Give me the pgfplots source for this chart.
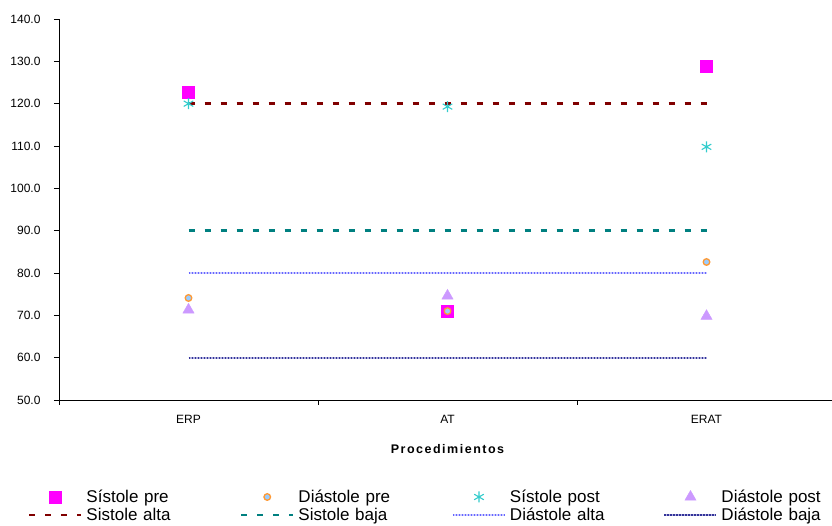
\documentclass[border=0pt]{standalone}
\usepackage{pgfplots}
\pgfplotsset{compat=1.18}
\usepackage{fontspec}
\setmainfont{Liberation Sans}

\definecolor{spre}{HTML}{FF00FF}
\definecolor{dprefill}{HTML}{99CCFF}
\definecolor{dpredraw}{HTML}{FF9933}
\definecolor{spost}{HTML}{33CCCC}
\definecolor{dpost}{HTML}{CC99FF}
\definecolor{salta}{HTML}{800000}
\definecolor{sbaja}{HTML}{008080}
\definecolor{dalta}{HTML}{6666FF}
\definecolor{daltabg}{HTML}{CCCCFF}
\definecolor{dbaja}{HTML}{333399}
\definecolor{dbajabg}{HTML}{B0B0DD}

\begin{document}
\begin{tikzpicture}
\useasboundingbox (0,0) rectangle (832pt,526pt);
\begin{axis}[
  at={(59pt,126pt)}, anchor=south west,
  scale only axis,
  width=777pt, height=381pt,
  xmin=-0.5, xmax=2.5,
  ymin=50, ymax=140,
  axis x line*=bottom, axis y line*=left,
  axis line style={-, line width=0.8pt},
  tick align=outside,
  major tick length=5pt,
  tick style={black, line width=0.8pt},
  ytick={50,60,...,140},
  yticklabel style={font=\fontsize{12}{13}\selectfont, xshift=-10pt,
    /pgf/number format/.cd, fixed, fixed zerofill, precision=1,
    assume math mode=true},
  xtick={-0.5,0.5,1.5,2.5},
  xticklabels={},
  extra x ticks={0,1,2},
  extra x tick labels={ERP,AT,ERAT},
  extra x tick style={major tick length=0pt,
    tick label style={font=\fontsize{12}{14}\selectfont, yshift=-12pt}},
  xlabel={\addfontfeatures{LetterSpace=12}Procedimientos},
  xlabel style={font=\fontsize{12.5}{14}\selectfont\bfseries,
    at={(axis description cs:0.5,-0.1286)}, anchor=center},
  clip=false,
  legend columns=4,
  legend cell align=left,
  legend image code/.code={%
    \draw[mark repeat=2,mark phase=2,#1]
      plot coordinates {(0pt,0pt) (26pt,0pt) (52pt,0pt)};},
  legend style={
    at={(axis description cs:-0.0399,-0.2362)}, anchor=north west,
    draw=none, inner sep=0pt, outer sep=0pt,
    font=\fontsize{17}{18}\selectfont,
    row sep=0pt,
    nodes={text width=150pt, inner xsep=0pt, inner ysep=1pt,
      text height=12pt, text depth=4pt, yshift=-2pt},
    /tikz/every odd column/.style={column sep=4pt},
    /tikz/every even column/.style={column sep=3.5pt},
  },
]
% blood pressure before the procedure
\addplot[only marks, mark=square*, mark size=6pt,
  mark options={draw=spre, fill=spre}]
  coordinates {(0,122.8) (1,71.0) (2,128.9)};
\addlegendentry{Sístole pre}
\addplot[only marks, mark=*, mark size=3.3pt,
  mark options={draw=dpredraw, fill=dprefill, line width=1.3pt}]
  coordinates {(0,74.1) (1,71.0) (2,82.6)};
\addlegendentry{Diástole pre}
% blood pressure after the procedure
\addplot[only marks, mark=asterisk, mark size=5.5pt,
  mark options={draw=spost, line width=1.1pt}]
  coordinates {(0,120.0) (1,119.3) (2,109.8)};
\addlegendentry{Sístole post}
\addplot[only marks, mark=triangle*, mark size=6.5pt,
  mark options={draw=dpost, fill=dpost}]
  coordinates {(0,71.3) (1,74.6) (2,69.8)};
\addlegendentry{Diástole post}
% reference limits
\addplot[salta, line width=2.5pt, dash pattern=on 6pt off 10pt]
  coordinates {(0,120) (2,120)};
\addlegendentry{Sistole alta}
\addplot[sbaja, line width=2.5pt, dash pattern=on 6pt off 10pt]
  coordinates {(0,90) (2,90)};
\addlegendentry{Sistole baja}
\addplot[dalta, line width=2pt, dash pattern=on 1.5pt off 1.5pt,
  preaction={draw=daltabg, solid, line width=2pt}]
  coordinates {(0,80) (2,80)};
\addlegendentry{Diástole alta}
\addplot[dbaja, line width=2pt, dash pattern=on 1.5pt off 1.5pt,
  preaction={draw=dbajabg, solid, line width=2pt}]
  coordinates {(0,60) (2,60)};
\addlegendentry{Diástole baja}
\end{axis}
\end{tikzpicture}
\end{document}
